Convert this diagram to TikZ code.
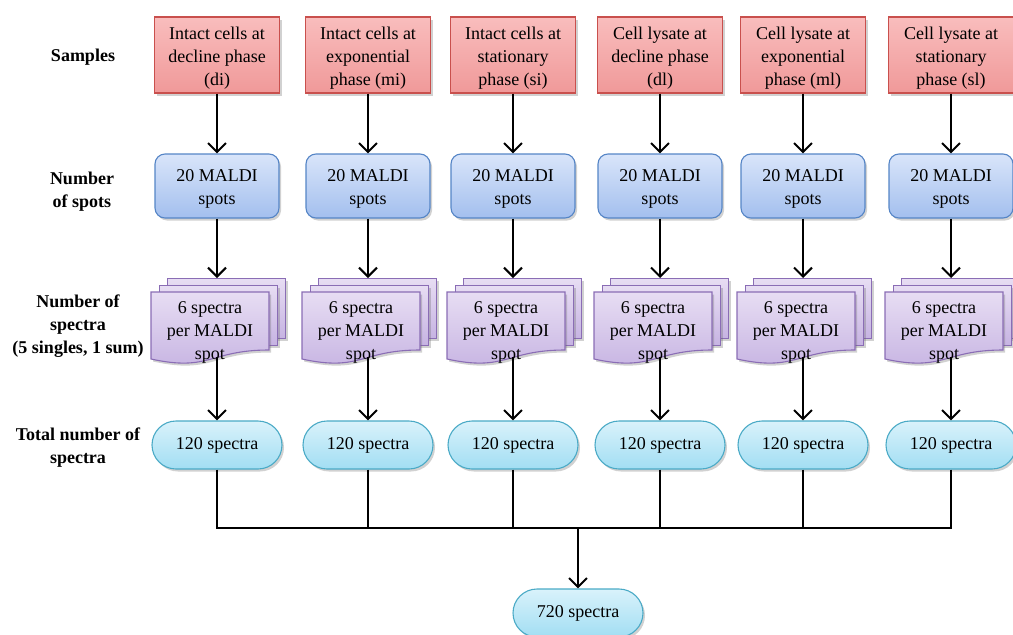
\documentclass[tikz,border=0pt]{standalone}
\usepackage{fontspec}
\setmainfont{Liberation Serif}
\usetikzlibrary{arrows.meta,shadows}

\definecolor{sampTop}{HTML}{F9BDBD}
\definecolor{sampMid}{HTML}{FDD5D5}
\definecolor{sampBot}{HTML}{F09999}
\definecolor{sampLine}{HTML}{C9504D}
\definecolor{spotTop}{HTML}{D9E5FA}
\definecolor{spotMid}{HTML}{E6EEFC}
\definecolor{spotBot}{HTML}{A3BFEE}
\definecolor{spotLine}{HTML}{5585C6}
\definecolor{specTop}{HTML}{E7DDF3}
\definecolor{specMid}{HTML}{EFE8F7}
\definecolor{specBot}{HTML}{C6B3E2}
\definecolor{specLine}{HTML}{8A6DB5}
\definecolor{totTop}{HTML}{D9F2FB}
\definecolor{totMid}{HTML}{E6F7FC}
\definecolor{totBot}{HTML}{A2DEF3}
\definecolor{totLine}{HTML}{4AAAC6}

% taller first line pushes multi-line text slightly down in its box
\newcommand\firstline{\rule{0pt}{18pt}}

\tikzset{
  shade/.style={drop shadow={shadow xshift=2pt,shadow yshift=-2.5pt,opacity=0.3,fill=black!60}},
  txt/.style={align=center,font=\fontsize{18}{23}\selectfont,inner sep=0pt},
  rowlabel/.style={align=center,font=\fontsize{18}{23}\selectfont\bfseries,inner sep=0pt},
  samplebox/.style={txt,shade,draw=sampLine,line width=1.1pt,
    top color=sampTop,middle color=sampMid,bottom color=sampBot,
    minimum width=125pt,minimum height=76pt},
  spotbox/.style={txt,shade,draw=spotLine,line width=1.1pt,
    top color=spotTop,middle color=spotMid,bottom color=spotBot,
    rounded corners=10pt,minimum width=124pt,minimum height=64pt},
  pagebox/.style={shade,draw=specLine,line width=1.1pt,
    top color=specTop,middle color=specMid,bottom color=specBot,
    minimum width=118pt,minimum height=60pt,inner sep=0pt},
  totbox/.style={txt,shade,draw=totLine,line width=1.1pt,
    top color=totTop,middle color=totMid,bottom color=totBot,
    rounded corners=24pt,minimum width=130pt,minimum height=48pt},
  link/.style={line width=2pt,black},
  flow/.style={link,-{Straight Barb[length=9pt,width=18pt,line width=2pt]}},
}

% stack of three pages with a wavy front page; #1 name, #2 left x, #3 top y
\newcommand\pagestack[3]{%
  \begin{scope}[shift={(#2,#3)}]
    \node[pagebox,anchor=north west] (#1b2) at (16,-14) {};
    \node[pagebox,anchor=north west] (#1b1) at (8,-7) {};
    \path[shade,draw=specLine,line width=1.1pt,
      top color=specTop,middle color=specMid,bottom color=specBot]
      (0,0) -- (118,0) -- (118,58) .. controls (59,58) and (59,80) .. (0,67) -- cycle;
    \node[txt] (#1) at (59,37) {\firstline 6 spectra\\per MALDI\\spot};
    \coordinate (#1bot) at (66,65);
  \end{scope}}

\begin{document}
\begin{tikzpicture}[x=1pt,y=-1pt]
  \useasboundingbox (0,0) rectangle (1013,635);

  % row captions
  \node[rowlabel] (capA) at (83,57) {Samples};
  \node[rowlabel] (capB) at (82,192) {Number\\of spots};
  \node[rowlabel] (capC) at (78,326) {Number of\\spectra\\(5 singles, 1 sum)};
  \node[rowlabel] (capD) at (78,448) {Total number of\\spectra};

  \coordinate (bus) at (578,528);

  \foreach \i/\ax/\lbl in {
      1/217/{Intact cells at\\decline phase\\(di)},
      2/368/{Intact cells at\\exponential\\phase (mi)},
      3/513/{Intact cells at\\stationary\\phase (si)},
      4/660/{Cell lysate at\\decline phase\\(dl)},
      5/803/{Cell lysate at\\exponential\\phase (ml)},
      6/951/{Cell lysate at\\stationary\\phase (sl)}}{
    \node[samplebox] (s\i) at (\ax,55) {\firstline\lbl};
    \node[spotbox] (m\i) at (\ax,186) {\firstline 20 MALDI\\spots};
    \pagestack{d\i}{\ax-66}{292}
    \node[totbox] (t\i) at (\ax,445) {\raisebox{-1.5pt}{120 spectra}};

    \draw[flow] (s\i.south) -- (m\i.north);
    \draw[flow] (m\i.south) -- (m\i.south |- d\i b2.north);
    \draw[flow] (d\i bot) -- (t\i.north);
    \draw[link] (t\i.south) |- (bus);
  }

  \node[totbox] (all) at (578,613) {\raisebox{-1.5pt}{720 spectra}};
  \draw[flow] (bus) -- (all.north);
\end{tikzpicture}
\end{document}
